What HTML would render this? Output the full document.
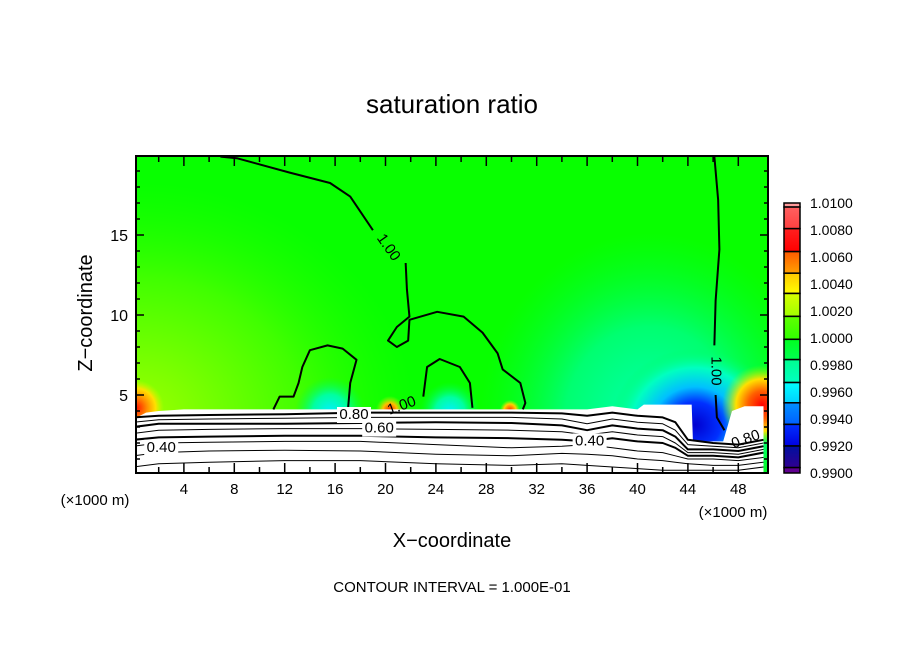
<!DOCTYPE html>
<html><head><meta charset="utf-8">
<style>
html,body{margin:0;padding:0;background:#fff;}
svg{display:block;font-family:"Liberation Sans",sans-serif;}
</style></head>
<body>
<svg id="chart" width="904" height="654" viewBox="0 0 904 654">
<defs>
<clipPath id="plotclip"><rect x="136" y="156" width="632" height="317"/></clipPath>
<radialGradient id="gLeft" cx="136" cy="420" r="280" gradientUnits="userSpaceOnUse" gradientTransform="translate(136 420) scale(1 0.85) translate(-136 -420)">
<stop offset="0" stop-color="#a0ff00"/><stop offset="0.3" stop-color="#70ff00"/><stop offset="0.6" stop-color="#40ff00"/><stop offset="1" stop-color="#20ff00" stop-opacity="0"/></radialGradient>
<radialGradient id="gWide" cx="650" cy="420" r="170" gradientUnits="userSpaceOnUse" gradientTransform="translate(650 420) scale(1 1.1) translate(-650 -420)">
<stop offset="0" stop-color="#00ffb0"/><stop offset="0.5" stop-color="#00ff70"/><stop offset="1" stop-color="#00ff30" stop-opacity="0"/></radialGradient>
<radialGradient id="gRight" cx="695" cy="425" r="85" gradientUnits="userSpaceOnUse" gradientTransform="translate(695 425) scale(1 0.9) translate(-695 -425)">
<stop offset="0" stop-color="#0000d0"/><stop offset="0.3" stop-color="#0030ff"/><stop offset="0.5" stop-color="#00c0ff"/><stop offset="0.75" stop-color="#00ffc0"/><stop offset="1" stop-color="#00ff60" stop-opacity="0"/></radialGradient>
<radialGradient id="gRed" cx="762" cy="405" r="40" gradientUnits="userSpaceOnUse">
<stop offset="0" stop-color="#ff0000"/><stop offset="0.35" stop-color="#ff6000"/><stop offset="0.65" stop-color="#ffe000"/><stop offset="1" stop-color="#80ff00" stop-opacity="0"/></radialGradient>
<radialGradient id="gRedL" cx="136" cy="408" r="28" gradientUnits="userSpaceOnUse">
<stop offset="0" stop-color="#ff1000"/><stop offset="0.4" stop-color="#ff9000"/><stop offset="0.7" stop-color="#ffe000"/><stop offset="1" stop-color="#c0ff00" stop-opacity="0"/></radialGradient>
<radialGradient id="gCyan" cx="330" cy="412" r="35" gradientUnits="userSpaceOnUse">
<stop offset="0" stop-color="#00f0ff"/><stop offset="0.5" stop-color="#00ffa0"/><stop offset="1" stop-color="#00ff40" stop-opacity="0"/></radialGradient>
<radialGradient id="gCyan2" cx="450" cy="412" r="30" gradientUnits="userSpaceOnUse">
<stop offset="0" stop-color="#00f0ff"/><stop offset="0.5" stop-color="#00ffa0"/><stop offset="1" stop-color="#00ff40" stop-opacity="0"/></radialGradient>
<radialGradient id="gOr" cx="390" cy="410" r="14" gradientUnits="userSpaceOnUse">
<stop offset="0" stop-color="#ff2000"/><stop offset="0.5" stop-color="#ffc000"/><stop offset="1" stop-color="#a0ff00" stop-opacity="0"/></radialGradient>
<radialGradient id="gOr2" cx="510" cy="410" r="10" gradientUnits="userSpaceOnUse">
<stop offset="0" stop-color="#ff3000"/><stop offset="0.6" stop-color="#ffd000"/><stop offset="1" stop-color="#a0ff00" stop-opacity="0"/></radialGradient>
</defs>
<text x="452" y="113" font-size="26" text-anchor="middle">saturation ratio</text>
<g clip-path="url(#plotclip)">
<rect x="136" y="156" width="632" height="317" fill="#08ff00"/>
<rect x="136" y="156" width="632" height="317" fill="url(#gLeft)"/>
<rect x="136" y="156" width="632" height="317" fill="url(#gWide)"/>
<rect x="136" y="156" width="632" height="317" fill="url(#gRight)"/>
<rect x="136" y="156" width="632" height="317" fill="url(#gRed)"/>
<rect x="136" y="156" width="632" height="317" fill="url(#gRedL)"/>
<rect x="136" y="156" width="632" height="317" fill="url(#gCyan)"/>
<rect x="136" y="156" width="632" height="317" fill="url(#gCyan2)"/>
<rect x="136" y="156" width="632" height="317" fill="url(#gOr)"/>
<rect x="136" y="156" width="632" height="317" fill="url(#gOr2)"/>
<g id="field"></g>
<g id="contours"></g>
</g>
<rect x="136" y="156" width="632" height="317" fill="none" stroke="#000" stroke-width="2"/>
<g id="axes"></g>
<g id="colorbar"></g>
<text transform="translate(92 313) rotate(-90)" font-size="20" text-anchor="middle">Z−coordinate</text>
<text x="452" y="547" font-size="20" text-anchor="middle">X−coordinate</text>
<text x="95" y="505" font-size="15" text-anchor="middle">(×1000 m)</text>
<text x="733" y="517" font-size="15" text-anchor="middle">(×1000 m)</text>
<text x="452" y="592" font-size="15" text-anchor="middle">CONTOUR INTERVAL = 1.000E-01</text>
</svg>
<script>
const xTicks=[4,8,12,16,20,24,28,32,36,40,44,48];
const yTicks=[5,10,15];
const cbLabels=["1.0100","1.0080","1.0060","1.0040","1.0020","1.0000","0.9980","0.9960","0.9940","0.9920","0.9900"];
const cbLabelValues=[1.010,1.008,1.006,1.004,1.002,1.000,0.998,0.996,0.994,0.992,0.990];
const cbLevels=[1.0100,1.0097,1.0081,1.0064,1.0048,1.0033,1.0016,0.9999,0.9984,0.9967,0.9952,0.9936,0.9920,0.9904,0.9900];
const cbColorsTop=["#ff9a9a","#ff6060","#ff2020","#ff5a00","#ffc800","#d8ff00","#60ff00","#00ff20","#00ff90","#00ffff","#0090ff","#0030ff","#0010a0","#600090"];
const cbColorsBot=["#ff9a9a","#ff4040","#ff0000","#ffa000","#ffff00","#a0ff00","#30ff00","#00ff50","#00ffc0","#00d0ff","#0060ff","#0000e0","#300090","#600090"];
// contour lines (x km, z km)
const c100a=[[6.9,19.9],[8.2,19.8],[12.4,18.9],[15.6,18.25],[17.2,17.4],[19.0,15.3]];
const c100b=[[21.6,13.25],[21.7,11.6],[21.9,9.9],[20.9,9.25],[20.2,8.4],[20.9,8.0],[21.8,8.4],[21.9,9.7],[24.1,10.2],[26.2,9.9],[27.7,8.9],[28.9,7.6],[29.3,6.6],[30.7,5.75],[31.1,4.5],[30.9,4.1]];
const c100c=[[26.9,4.2],[26.7,5.75],[25.9,6.75],[24.3,7.25],[23.3,6.75],[23.0,4.9]];
const c100d=[[17.0,3.9],[17.2,5.75],[17.7,7.2],[16.6,7.9],[15.4,8.1],[14.0,7.8],[13.4,6.75],[13.1,5.75],[12.7,4.9],[11.6,4.9],[11.1,4.1]];
const c100e=[[46.1,19.9],[46.4,17.2],[46.5,14.1],[46.2,10.9],[46.1,8.1]];
const c100f=[[46.2,5.0],[46.3,3.6],[46.9,2.8]];
const lowX=[0,2,6,12,18,24,30,34,36,38,40,42,43,44,46,48,50];
const lowZ=[
 [3.6,3.7,3.75,3.8,3.9,3.9,3.9,3.85,3.7,3.9,3.7,3.6,3.3,2.2,2.0,1.9,2.2],
 [3.3,3.45,3.5,3.55,3.6,3.6,3.6,3.5,3.2,3.5,3.3,3.2,2.8,1.9,1.8,1.7,2.0],
 [3.0,3.2,3.2,3.2,3.25,3.3,3.25,3.1,2.8,3.1,2.9,2.8,2.4,1.6,1.6,1.5,1.8],
 [2.6,2.8,2.85,2.9,2.9,2.85,2.8,2.7,2.5,2.7,2.5,2.4,2.0,1.4,1.4,1.3,1.6],
 [2.2,2.35,2.4,2.45,2.45,2.35,2.3,2.2,2.1,2.3,2.1,2.0,1.7,1.2,1.2,1.1,1.4],
 [1.8,2.0,2.05,2.1,2.1,1.9,1.7,1.8,1.9,1.7,1.5,1.4,1.2,1.0,1.0,0.9,1.1],
 [1.2,1.4,1.5,1.55,1.5,1.3,1.2,1.35,1.3,1.2,1.0,0.9,0.8,0.7,0.6,0.6,0.8],
 [0.5,0.7,0.8,0.9,0.9,0.7,0.6,0.7,0.6,0.5,0.4,0.3,0.3,0.3,0.3,0.3,0.5]];
const lowThick=[true,false,true,false,true,false,false,false];
const whiteX=[0,1,2,4,10,20,30,36,38,40,40.5,44.3,44.4,46.8,47.5,48.5,50];
const whiteZ=[3.5,3.9,4.0,4.1,4.1,4.1,4.1,4.1,4.3,4.1,4.4,4.4,2.1,2.1,4.0,4.3,4.3];

const NS="http://www.w3.org/2000/svg";
const X=v=>133.5+v*12.6, Y=z=>475-z*16;
const CB=v=>203+(1.01-v)/0.02*270;
function mk(tag,attrs,parent){const e=document.createElementNS(NS,tag);for(const k in attrs)e.setAttribute(k,attrs[k]);parent.appendChild(e);return e;}
const field=document.getElementById('field'),cont=document.getElementById('contours'),axes=document.getElementById('axes'),cb=document.getElementById('colorbar');
let wp=whiteX.map((x,i)=>X(x)+','+Y(whiteZ[i])).join(' ')+' '+X(50)+','+Y(-1)+' '+X(0)+','+Y(-1);
const w=mk('polygon',{points:wp,fill:'#fff'},field);


function line(pts,sw,name){const p=mk('polyline',{points:pts.map(q=>X(q[0])+','+Y(q[1])).join(' '),fill:'none',stroke:'#000','stroke-width':sw,'stroke-linejoin':'round'},cont);

}
[c100a,c100b,c100c,c100d,c100e,c100f].forEach((c,i)=>line(c,2,'contour-1-00-'+i));
lowZ.forEach((zs,i)=>line(lowX.map((x,j)=>[x,zs[j]]),lowThick[i]?2:1,'contour-low-'+i));
function lbl(t,x,z,rot,name){const tt=mk('text',{x:X(x),y:Y(z),'font-size':15,'text-anchor':'middle','dominant-baseline':'middle',transform:'rotate('+rot+' '+X(x)+' '+Y(z)+')'},cont);tt.textContent=t;

}
function bgl(x,z,w){mk('rect',{x:X(x)-w/2,y:Y(z)-8,width:w,height:16,fill:'#fff'},cont);}
lbl('1.00',20.2,14.2,55,'contour-label-1-00a');
lbl('1.00',46.2,6.5,90,'contour-label-1-00b');
lbl('1.00',21.3,4.3,-20,'contour-label-1-00c');
bgl(17.5,3.75,34);lbl('0.80',17.5,3.75,0,'contour-label-0-80');
bgl(19.5,2.9,34);lbl('0.60',19.5,2.9,0,'contour-label-0-60');
bgl(2.2,1.7,34);lbl('0.40',2.2,1.7,0,'contour-label-0-40a');
bgl(36.2,2.1,34);lbl('0.40',36.2,2.1,0,'contour-label-0-40b');
lbl('0.80',48.6,2.2,-20,'contour-label-0-80b');
for(let v=2;v<50;v+=2){const big=v%4===0;
 mk('line',{x1:X(v),x2:X(v),y1:473,y2:473-(big?10:6),stroke:'#000','stroke-width':1.5},axes);
 mk('line',{x1:X(v),x2:X(v),y1:156,y2:156+(big?10:6),stroke:'#000','stroke-width':1.5},axes);}
for(let z=1;z<20;z++){const big=z%5===0;
 mk('line',{x1:136,x2:136+(big?8:4),y1:Y(z),y2:Y(z),stroke:'#000','stroke-width':1.5},axes);
 mk('line',{x1:768,x2:768-(big?8:4),y1:Y(z),y2:Y(z),stroke:'#000','stroke-width':1.5},axes);}
xTicks.forEach(v=>{const t=mk('text',{x:X(v),y:494,'font-size':15,'text-anchor':'middle'},axes);t.textContent=v;

});
yTicks.forEach(v=>{const t=mk('text',{x:128,y:Y(v)+6,'font-size':16,'text-anchor':'end'},axes);t.textContent=v;

});
const defs=document.querySelector('defs');
for(let i=0;i<cbColorsTop.length;i++){
 const g=mk('linearGradient',{id:'cb'+i,x1:0,y1:0,x2:0,y2:1},defs);
 mk('stop',{offset:0,'stop-color':cbColorsTop[i]},g);mk('stop',{offset:1,'stop-color':cbColorsBot[i]},g);
 const y0=CB(cbLevels[i]),y1=CB(cbLevels[i+1]);
 const r=mk('rect',{x:784,y:y0,width:16,height:y1-y0,fill:'url(#cb'+i+')',stroke:'#000','stroke-width':1.5},cb);
 
 }
cbLabels.forEach((s,i)=>{const t=mk('text',{x:810,y:CB(cbLabelValues[i])+5,'font-size':14},cb);t.textContent=s;

});
</script>
</body></html>
